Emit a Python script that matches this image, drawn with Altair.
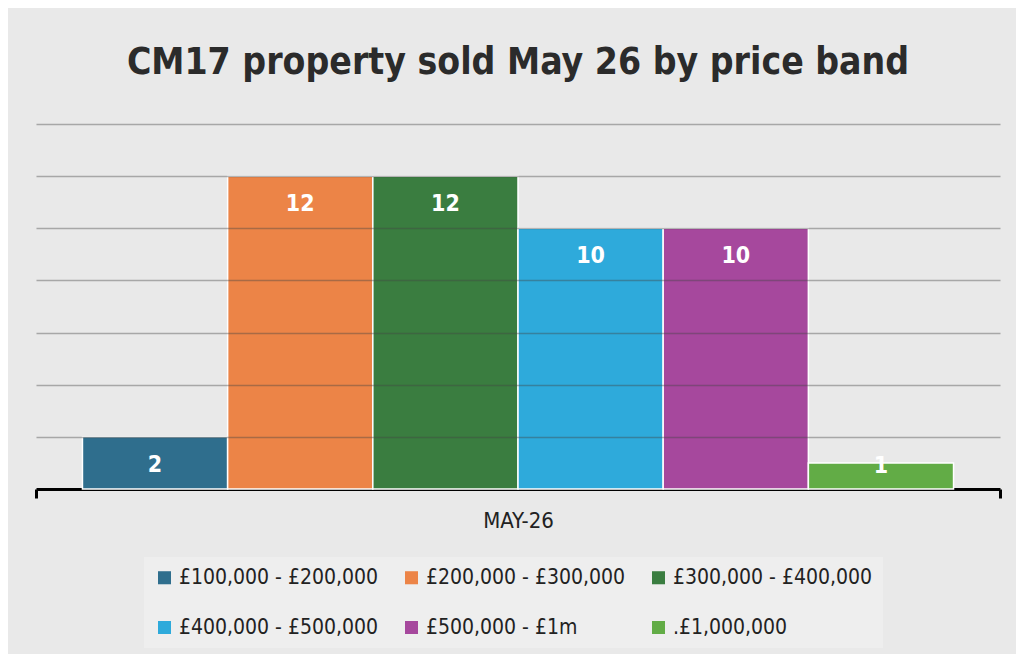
import altair as alt
import pandas as pd

month = "MAY-26"
bands = ["£100,000 - £200,000", "£200,000 - £300,000", "£300,000 - £400,000",
         "£400,000 - £500,000", "£500,000 - £1m", ".£1,000,000"]
counts = [2, 12, 12, 10, 10, 1]
colors = ["#2f6e8d", "#ec8447", "#3a7d40", "#2eaadb", "#a6489d", "#62ac46"]
title_text = "CM17 property sold May 26 by price band"

FONT = "DejaVu Sans Condensed, sans-serif"

df = pd.DataFrame({"month": [month] * len(bands), "band": bands, "count": counts})

base = alt.Chart(df).encode(
    x=alt.X("month:N", title=None,
            scale=alt.Scale(paddingInner=0, paddingOuter=0),
            axis=alt.Axis(labelAngle=0, domainColor="black", domainWidth=3,
                          tickColor="black", tickWidth=3, tickSize=9,
                          tickBand="extent", labelFontSize=22, labelColor="#222",
                          labelFont=FONT, labelPadding=12, grid=False)),
    xOffset=alt.XOffset("band:N", sort=bands,
                        scale=alt.Scale(domain=bands, paddingOuter=0.32, paddingInner=0)),
)

bars = base.mark_bar(stroke="white", strokeWidth=1.5).encode(
    y=alt.Y("count:Q", title=None,
            scale=alt.Scale(domain=[0, 14], nice=False),
            axis=alt.Axis(labels=False, ticks=False, domain=False,
                          values=[2, 4, 6, 8, 10, 12, 14],
                          gridColor="#444", gridOpacity=0.4, gridWidth=1.5,
                          zindex=1)),
    color=alt.Color("band:N", scale=alt.Scale(domain=bands, range=colors),
                    legend=alt.Legend(title=None, orient="none", legendX=108, legendY=433,
                                      direction="horizontal",
                                      columns=3, symbolType="square", symbolSize=170,
                                      symbolStrokeWidth=0,
                                      labelFontSize=21, labelFont=FONT, labelColor="#222",
                                      labelLimit=400, fillColor="#eeeeee", padding=10,
                                      rowPadding=28, columnPadding=22, gridAlign="each")),
)

labels = base.transform_calculate(
    ly="max(datum.count - 1, 0.97)"
).mark_text(color="white", fontWeight="bold", fontSize=23, font=FONT,
            baseline="middle", dy=2).encode(
    y=alt.Y("ly:Q"),
    text=alt.Text("count:Q"),
)

chart = alt.layer(bars, labels).properties(
    width=964, height=365,
    autosize=alt.AutoSizeParams(type="none"),
    padding={"left": 28, "top": 116, "right": 16, "bottom": 165},
    background="#e9e9e9",
    title=alt.Title(title_text, fontSize=37, font=FONT, fontWeight="bold",
                    color="#2b2b2b", anchor="middle", baseline="alphabetic", offset=13),
).configure_view(stroke=None)

chart.save("out.html", embed_options={"renderer": "svg", "actions": False})
